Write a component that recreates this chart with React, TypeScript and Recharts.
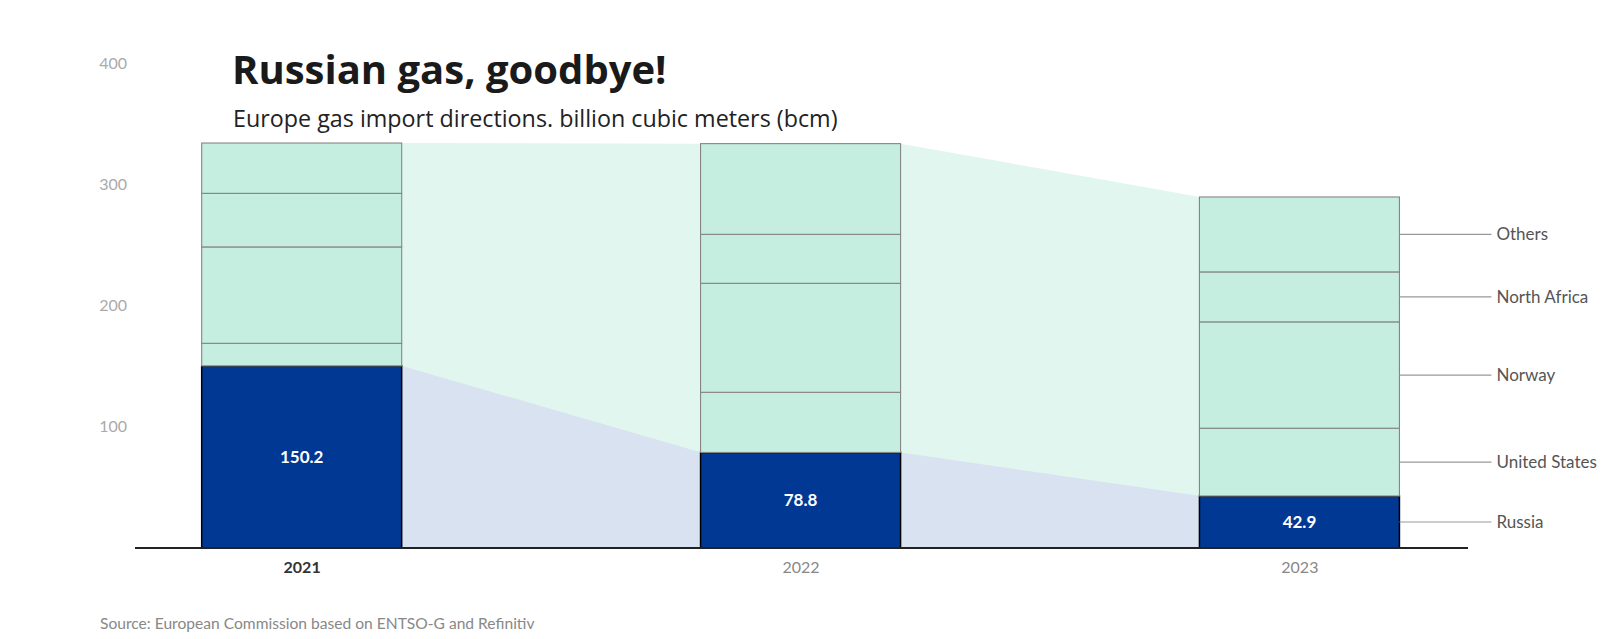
import React from 'react';
import { ComposedChart, Bar, Area, XAxis, YAxis, LabelList } from 'recharts';

const years = ['2021', '2022', '2023'];
const russia = [150.2, 78.8, 42.9];
const unitedStates = [18.6, 49.6, 55.9];
const norway = [79.5, 89.9, 87.7];
const northAfrica = [44.2, 40.4, 41.2];
const others = [41.5, 74.8, 61.8];
const yTicks = [100, 200, 300, 400];
const seriesNames = ['Russia', 'United States', 'Norway', 'North Africa', 'Others'];

const BAR_HALF = 0.2; // half bar width in category units
const FONT = 'Lato, "Noto Sans", sans-serif';
const TITLE_FONT = '"Open Sans", "Noto Sans", sans-serif';
const X_DOMAIN: [number, number] = [-0.335, 2.337];
const Y_DOMAIN: [number, number] = [0, 400];

const barData = years.map((y, i) => ({
  x: i,
  year: y,
  russia: russia[i],
  unitedStates: unitedStates[i],
  norway: norway[i],
  northAfrica: northAfrica[i],
  others: others[i],
}));

const totals = years.map((_, i) => russia[i] + unitedStates[i] + norway[i] + northAfrica[i] + others[i]);

const areaData = [
  { x: 0 + BAR_HALF, russia: russia[0], total: totals[0] },
  { x: 1 - BAR_HALF, russia: russia[1], total: totals[1] },
  { x: 1 + BAR_HALF, russia: russia[1], total: totals[1] },
  { x: 2 - BAR_HALF, russia: russia[2], total: totals[2] },
];

const makeShape = (name: string, isRussia: boolean) => (props: any) => {
  const { x, y, width, height, index } = props;
  const els: any[] = [
    <rect
      key="r"
      x={x}
      y={y}
      width={width}
      height={height}
      fill={isRussia ? '#003893' : '#c5eee0'}
      stroke={isRussia ? '#000' : '#858585'}
      strokeWidth={isRussia ? 1.5 : 1.1}
    />,
  ];
  if (index === years.length - 1) {
    const cy = y + height / 2;
    els.push(
      <line key="l" x1={x + width} x2={x + width + 92} y1={cy} y2={cy} stroke="#999" strokeWidth={1.2} />
    );
    els.push(
      <text key="t" x={x + width + 97} y={cy} dy="0.35em" fill="#555" fontSize={17} fontFamily={FONT}>
        {name}
      </text>
    );
  }
  return <g>{els}</g>;
};

const XTick = (props: any) => {
  const { x, y, payload } = props;
  const idx = Math.round(payload.value);
  const first = idx === 0;
  return (
    <text
      x={x}
      y={y + 17}
      textAnchor="middle"
      fill={first ? '#333' : '#888'}
      fontWeight={first ? 700 : 400}
      fontSize={16}
      fontFamily={FONT}
    >
      {years[idx]}
    </text>
  );
};

const layer: React.CSSProperties = { position: 'absolute', left: 0, top: 0 };

export default function App() {
  return (
    <div style={{ position: 'absolute', left: 0, top: 0, width: 1611, height: 639, background: '#fff' }}>
      <div style={layer}>
        <ComposedChart width={1611} height={639} margin={{ top: 63, right: 143, bottom: 91, left: 135 }}>
          <XAxis dataKey="x" type="number" domain={X_DOMAIN} hide />
          <YAxis type="number" domain={Y_DOMAIN} hide />
          <Area
            data={areaData}
            dataKey="total"
            type="linear"
            stroke="none"
            fill="#e0f6ee"
            fillOpacity={1}
            isAnimationActive={false}
          />
          <Area
            data={areaData}
            dataKey="russia"
            type="linear"
            stroke="none"
            fill="#d9e2f0"
            fillOpacity={1}
            isAnimationActive={false}
          />
        </ComposedChart>
      </div>
      <div style={layer}>
        <ComposedChart
          width={1611}
          height={639}
          data={barData}
          margin={{ top: 63, right: 143, bottom: 61, left: 75 }}
        >
          <XAxis
            dataKey="x"
            type="number"
            domain={X_DOMAIN}
            ticks={[0, 1, 2]}
            height={30}
            axisLine={{ stroke: '#222', strokeWidth: 2 }}
            tickLine={false}
            tick={<XTick />}
          />
          <YAxis
            type="number"
            domain={Y_DOMAIN}
            ticks={yTicks}
            width={60}
            axisLine={false}
            tickLine={false}
            tick={{ fill: '#aaa', fontSize: 16, fontFamily: FONT }}
          />
          <Bar dataKey="russia" stackId="s" barSize={200} shape={makeShape(seriesNames[0], true)} isAnimationActive={false}>
            <LabelList dataKey="russia" position="center" fill="#fff" fontSize={17} fontWeight={700} fontFamily={FONT} />
          </Bar>
          <Bar dataKey="unitedStates" stackId="s" barSize={200} shape={makeShape(seriesNames[1], false)} isAnimationActive={false} />
          <Bar dataKey="norway" stackId="s" barSize={200} shape={makeShape(seriesNames[2], false)} isAnimationActive={false} />
          <Bar dataKey="northAfrica" stackId="s" barSize={200} shape={makeShape(seriesNames[3], false)} isAnimationActive={false} />
          <Bar dataKey="others" stackId="s" barSize={200} shape={makeShape(seriesNames[4], false)} isAnimationActive={false} />
        </ComposedChart>
      </div>
      <div
        style={{
          position: 'absolute',
          left: 232,
          top: 47,
          fontFamily: TITLE_FONT,
          fontWeight: 700,
          fontSize: 40,
          lineHeight: '44px',
          color: '#1a1a1a',
          whiteSpace: 'nowrap',
        }}
      >
        Russian gas, goodbye!
      </div>
      <div
        style={{
          position: 'absolute',
          left: 233,
          top: 104,
          fontFamily: TITLE_FONT,
          fontSize: 23.3,
          lineHeight: '28px',
          color: '#222',
          whiteSpace: 'nowrap',
        }}
      >
        Europe gas import directions. billion cubic meters (bcm)
      </div>
      <div
        style={{
          position: 'absolute',
          left: 100,
          top: 613,
          fontFamily: FONT,
          fontSize: 15.6,
          lineHeight: '20px',
          color: '#888',
          whiteSpace: 'nowrap',
        }}
      >
        Source: European Commission based on ENTSO-G and Refinitiv
      </div>
    </div>
  );
}
